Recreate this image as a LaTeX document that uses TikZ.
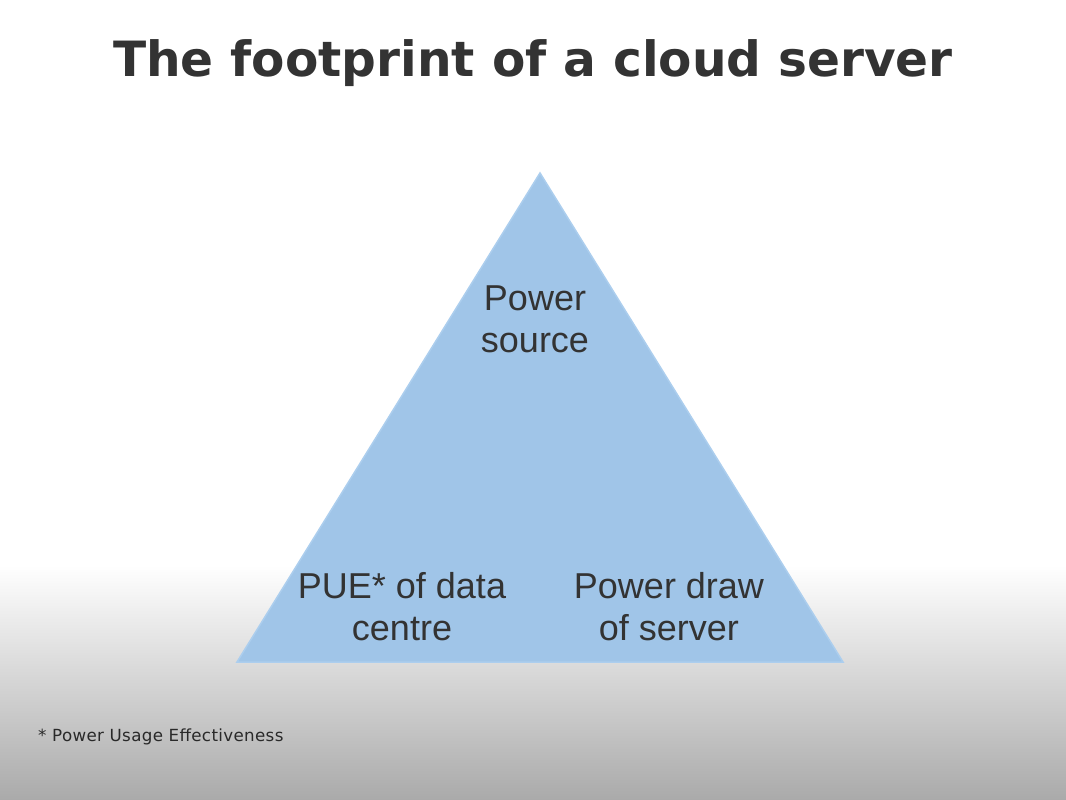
\documentclass[tikz,border=0pt]{standalone}
\usepackage{fontspec}
\setmainfont{Liberation Sans}
\newfontfamily\titlefont{DejaVu Sans}
\newfontfamily\notefont[LetterSpace=2]{DejaVu Sans}
\usetikzlibrary{calc}
\definecolor{tri}{RGB}{160,197,232}
\definecolor{triedge}{RGB}{172,206,238}
\definecolor{ink}{RGB}{51,51,51}
\definecolor{bgbot}{RGB}{170,170,170}
\tikzset{
  label text/.style={font=\fontsize{36}{42}\selectfont, text=ink, align=center, inner sep=0pt},
}
\begin{document}
\begin{tikzpicture}[x=1pt,y=-1pt]
\useasboundingbox (0,0) rectangle (1066,800);
\fill[white] (0,0) rectangle (1066,565);
\shade[top color=white, bottom color=bgbot] (0,565) rectangle (1066,800);
\node[anchor=base, text=ink, inner sep=0pt, font=\titlefont\bfseries\fontsize{48.6}{54}\selectfont] (title) at (533,77) {The footprint of a cloud server};
\coordinate (apex) at (540,173);
\coordinate (bl) at (237,662);
\coordinate (br) at (843,662);
\path[fill=tri, draw=triedge, line width=1.5pt] (apex) -- (br) -- (bl) -- cycle;
\node[label text] (src) at (535,319) {Power\\source};
\node[label text] (pue) at (402,607) {PUE* of data\\centre};
\node[label text] (draw) at (669,607) {Power draw\\of server};
\node[anchor=base west, inner sep=0pt, text=ink!80!black, font=\notefont\fontsize{16.7}{19}\selectfont] (note) at (38,741) {* Power Usage Effectiveness};
\end{tikzpicture}
\end{document}
